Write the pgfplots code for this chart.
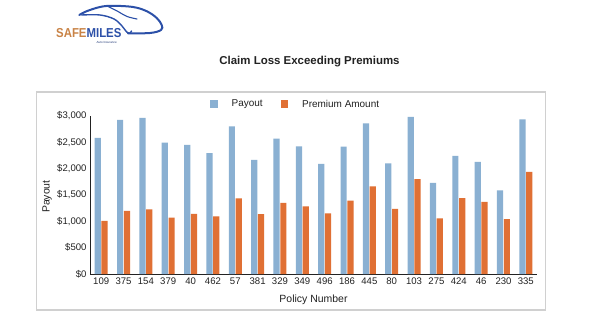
\documentclass[border=0pt]{standalone}
\usepackage{pgfplots}
\pgfplotsset{compat=1.18}
\usepackage{fontspec}
\setmainfont{Liberation Sans}
\usepackage{graphicx}
\definecolor{payblue}{HTML}{8AB0D2}
\definecolor{premorange}{HTML}{E07034}
\definecolor{framegray}{HTML}{D0D0D0}
\definecolor{logoblue}{HTML}{2C50A8}
\definecolor{logoorange}{HTML}{C98346}
\definecolor{txt}{HTML}{222222}
\begin{document}
\begin{tikzpicture}
\path[use as bounding box] (0,0) rectangle (600bp,325bp);
\fill[white] (0,0) rectangle (600bp,325bp);
\draw[framegray, line width=1.2bp] (36.7bp,15bp) rectangle (545.7bp,233bp);
\node[font=\bfseries\fontsize{11.5}{13}\selectfont, text=txt] at (309.5bp,263bp) {Claim Loss Exceeding Premiums};
% logo
\draw[logoblue, line width=2bp, line cap=round] plot[smooth, tension=0.6] coordinates {(79.3bp,310bp) (86.7bp,313.8bp) (100bp,318bp) (112bp,319.2bp) (133bp,318bp) (146.7bp,313.8bp) (156.7bp,307bp) (161.7bp,300bp) (161bp,295bp) (150bp,292bp) (128bp,291.7bp)};
\draw[logoblue, line width=1.4bp, line cap=round] plot[smooth, tension=0.6] coordinates {(81.7bp,310bp) (100bp,310bp) (114bp,306bp) (122bp,299bp) (126.7bp,293bp) (130bp,292bp) (131.5bp,294bp)};
\draw[logoblue, line width=1.1bp, line cap=round] plot[smooth, tension=0.6] coordinates {(108bp,318.5bp) (118bp,313.5bp) (127bp,308.5bp) (137bp,306bp)};
\node[anchor=base west, inner sep=0pt] at (56bp,287.7bp) {\scalebox{0.88}[1]{\fontsize{13}{13}\selectfont\bfseries\textcolor{logoorange}{SAFE}\textcolor{logoblue}{MILES}}};
\node[font=\fontsize{3}{3}\selectfont, text=logoblue!70!black, inner sep=0pt] at (106.7bp,282.3bp) {Auto Insurance};
\begin{axis}[
  at={(90bp,51bp)}, anchor=south west,
  scale only axis, width=447bp, height=158bp,
  xmin=-0.5, xmax=19.5, ymin=0, ymax=3000,
  enlargelimits=false, clip=false,
  axis x line*=bottom, axis y line*=left,
  axis line style={txt, line width=0.9bp, -},
  xtick={0,...,19},
  xticklabels={109,375,154,379,40,462,57,381,329,349,496,186,445,80,103,275,424,46,230,335},
  ytick={0,500,1000,1500,2000,2500,3000},
  yticklabels={\$0,\$500,{\$1,000},{\$1,500},{\$2,000},{\$2,500},{\$3,000}},
  major tick length=0pt,
  tick label style={font=\fontsize{9.6}{11}\selectfont, text=txt},
  ybar=0.6bp, bar width=6.2bp,
  xlabel={Policy Number}, ylabel={Payout},
  label style={font=\fontsize{10.5}{12}\selectfont, text=txt},
  xlabel style={at={(axis description cs:0.5,0)}, yshift=-26bp, anchor=center},
  ylabel style={at={(axis description cs:-0.0962,0.49)}, anchor=center},
  legend style={at={(0.46,1.075)}, anchor=center, draw=none, fill=none,
    font=\fontsize{10}{11}\selectfont, text=txt, legend columns=2,
    /tikz/every odd column/.append style={column sep=12bp},
    /tikz/every even column/.append style={column sep=16bp}},
]
\addplot[fill=payblue, draw=none, legend image code/.code={\fill[payblue] (0bp,-3.75bp) rectangle (7.5bp,3.75bp);}] coordinates {
(0,2585) (1,2925) (2,2965) (3,2495) (4,2450) (5,2295) (6,2805) (7,2165) (8,2570) (9,2425)
(10,2090) (11,2420) (12,2860) (13,2100) (14,2985) (15,1730) (16,2245) (17,2130) (18,1590) (19,2935)};
\addplot[fill=premorange, draw=none, legend image code/.code={\fill[premorange] (0bp,-3.75bp) rectangle (7.5bp,3.75bp);}] coordinates {
(0,1010) (1,1200) (2,1225) (3,1070) (4,1140) (5,1095) (6,1435) (7,1135) (8,1350) (9,1285)
(10,1150) (11,1395) (12,1665) (13,1235) (14,1800) (15,1055) (16,1440) (17,1370) (18,1040) (19,1940)};
\legend{Payout, Premium Amount}
\end{axis}
\end{tikzpicture}
\end{document}
